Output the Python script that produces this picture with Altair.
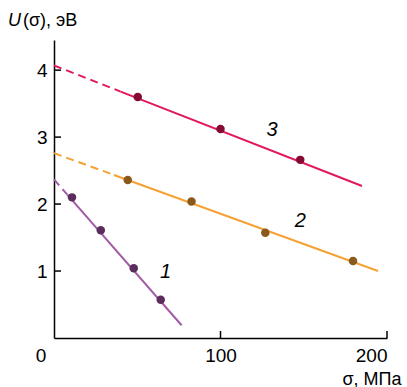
import altair as alt
import pandas as pd

# ---- data ----
series = ["1", "2", "3"]
line_x0 = [0.0, 0.0, 0.0]
line_y0 = [2.37, 2.76, 4.07]
break_x = [8.0, 36.0, 40.0]
break_y = [2.14, 2.435, 3.68]
end_x = [76.6, 194.6, 185.0]
end_y = [0.19, 1.00, 2.27]

p1_x = [10.8, 28.1, 47.9, 64.1]
p1_y = [2.10, 1.61, 1.04, 0.57]
p2_x = [44.3, 82.6, 126.9, 179.6]
p2_y = [2.36, 2.04, 1.57, 1.15]
p3_x = [50.3, 100.0, 147.9]
p3_y = [3.60, 3.12, 2.66]

label_x = [67.0, 148.0, 131.0]
label_y = [0.99, 1.74, 3.10]

x_ticks = [100, 200]
y_ticks = [1, 2, 3, 4]

line_colors = ["#a25ca6", "#f5a134", "#e2185c"]
point_colors = ["#5b2d5c", "#8a5a1c", "#850a36"]

FONT = "Liberation Sans"
W, H = 333, 298

# ---- tables ----
dash_rows, solid_rows = [], []
for i, s in enumerate(series):
    dash_rows += [{"s": s, "x": line_x0[i], "y": line_y0[i]}, {"s": s, "x": break_x[i], "y": break_y[i]}]
    solid_rows += [{"s": s, "x": break_x[i], "y": break_y[i]}, {"s": s, "x": end_x[i], "y": end_y[i]}]
dash_df = pd.DataFrame(dash_rows)
solid_df = pd.DataFrame(solid_rows)

pts = []
for s, xs_, ys_ in zip(series, [p1_x, p2_x, p3_x], [p1_y, p2_y, p3_y]):
    pts += [{"p": s, "x": a, "y": b} for a, b in zip(xs_, ys_)]
pts_df = pd.DataFrame(pts)

lab_df = pd.DataFrame({"s": series, "x": label_x, "y": label_y})

xs = alt.Scale(domain=[0, 200], nice=False, zero=False)
ys = alt.Scale(domain=[0, 4.45], nice=False, zero=False)

line_color = alt.Color("s:N", scale=alt.Scale(domain=series, range=line_colors), legend=None)
pt_color = alt.Fill("p:N", scale=alt.Scale(domain=series, range=point_colors), legend=None)

x_axis = alt.Axis(values=x_ticks, tickSize=0, labelPadding=8, labelFontSize=19, labelFont=FONT,
                  labelColor="black", domainColor="black", domainWidth=1.5, grid=False, format="d",
                  title="σ, МПа", titleFont=FONT, titleFontSize=18, titleFontWeight="normal",
                  titleColor="black", titleX=347, titleY=46, titleAlign="right",
                  titleBaseline="alphabetic", titleAnchor="start")
y_axis = alt.Axis(values=y_ticks, tickSize=0, labelPadding=7, labelFontSize=19, labelFont=FONT,
                  labelColor="black", domainColor="black", domainWidth=1.5, grid=False, format="d",
                  title=None)

base_axes = alt.Chart(pd.DataFrame({"x": [0], "y": [0]})).mark_point(opacity=0).encode(
    x=alt.X("x:Q", scale=xs, axis=x_axis),
    y=alt.Y("y:Q", scale=ys, axis=y_axis),
)

dashed = alt.Chart(dash_df).mark_line(strokeWidth=2, strokeDash=[8, 5]).encode(
    x=alt.X("x:Q", scale=xs), y=alt.Y("y:Q", scale=ys), color=line_color, detail="s:N")
solid = alt.Chart(solid_df).mark_line(strokeWidth=2).encode(
    x=alt.X("x:Q", scale=xs), y=alt.Y("y:Q", scale=ys), color=line_color, detail="s:N")
points = alt.Chart(pts_df).mark_circle(size=72, opacity=1).encode(
    x=alt.X("x:Q", scale=xs), y=alt.Y("y:Q", scale=ys), fill=pt_color)
labels = alt.Chart(lab_df).mark_text(font=FONT, fontSize=20, fontStyle="italic", color="black",
                                     align="center", baseline="middle").encode(
    x=alt.X("x:Q", scale=xs), y=alt.Y("y:Q", scale=ys), text="s:N")

ytick_rules = alt.Chart(pd.DataFrame({"y": y_ticks})).mark_rule(color="black", strokeWidth=1.5).encode(
    y=alt.Y("y:Q", scale=ys), x=alt.value(0), x2=alt.value(7))
xtick_rules = alt.Chart(pd.DataFrame({"x": x_ticks})).mark_rule(color="black", strokeWidth=1.5).encode(
    x=alt.X("x:Q", scale=xs), y=alt.value(H), y2=alt.value(H - 7))

zero_label = alt.Chart(pd.DataFrame({"x": [0], "y": [0], "t": ["0"]})).mark_text(
    font=FONT, fontSize=19, color="black", align="center", baseline="alphabetic", dx=-13, dy=24).encode(
    x=alt.X("x:Q", scale=xs), y=alt.Y("y:Q", scale=ys), text="t:N")

title_u = alt.Chart(pd.DataFrame({"t": ["U"]})).mark_text(
    font=FONT, fontSize=18, fontStyle="italic", color="black", align="left", baseline="alphabetic").encode(
    x=alt.value(-46), y=alt.value(-14), text="t:N")
title_rest = alt.Chart(pd.DataFrame({"t": ["(σ), эВ"]})).mark_text(
    font=FONT, fontSize=18, color="black", align="left", baseline="alphabetic").encode(
    x=alt.value(-31), y=alt.value(-14), text="t:N")

chart = alt.layer(base_axes, dashed, solid, points, labels, ytick_rules, xtick_rules,
                  zero_label, title_u, title_rest).resolve_scale(color="independent").properties(
    width=W, height=H,
    autosize=alt.AutoSizeParams(type="none"),
    padding={"left": 54, "top": 40, "right": 20, "bottom": 49},
).configure_view(stroke=None)

chart.save("out.html", embed_options={"renderer": "svg", "actions": False})
